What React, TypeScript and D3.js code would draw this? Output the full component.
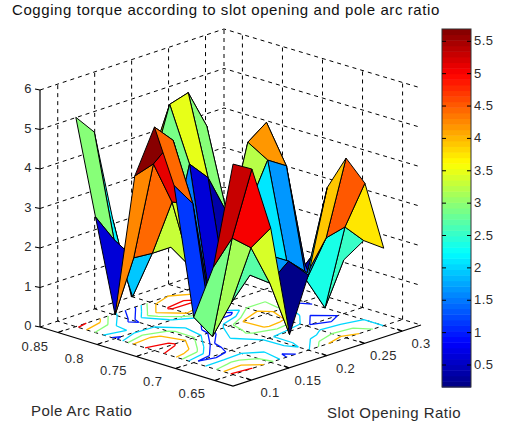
import { useMemo } from "react";
import * as d3 from "d3";

// axis ticks
const slotOpeningTicks = [0.1, 0.15, 0.2, 0.25, 0.3];
const poleArcTicks = [0.65, 0.7, 0.75, 0.8, 0.85];
const cogTicks = [0, 1, 2, 3, 4, 5, 6];
const colorbarTicks = [0.5, 1, 1.5, 2, 2.5, 3, 3.5, 4, 4.5, 5, 5.5];
const contourLevels = [1, 2, 3, 4, 5];

// mesh coordinates
const slotOpening = [0.1, 0.125, 0.15, 0.175, 0.2, 0.225, 0.25, 0.275, 0.3];
const poleArc = [0.65, 0.675, 0.7, 0.725, 0.75, 0.775, 0.8, 0.825, 0.85];

// cogging torque, one list per slot opening, pole arc ascending
const torque010 = [5.33, 2.57, 1.15, 4.33, 5.66, 4.27, 0.6, 2.93, 5.3];
const torque0125 = [5.05, 3.15, 0.5, 3.72, 5.17, 4.42, 1.89, 2.2, 4.77];
const torque015 = [3.4, 2.75, 1.2, 0.8, 3.4, 3.3, 1.85, 0.6, 2.4];
const torque0175 = [0.55, 1.7, 1.75, 2.0, 0.6, 1.5, 1.85, 3.6, 0.3];
const torque020 = [1.9, 2.1, 2.1, 3.2, 2.6, 0.6, 3.8, 5.16, 3.5];
const torque0225 = [3.96, 1.65, 1.7, 4.2, 4.5, 0.35, 3.3, 5.3, 4.0];
const torque025 = [4.55, 2.38, 1.16, 3.9, 4.85, 3.0, 2.27, 4.3, 3.5];
const torque0275 = [3.76, 2.5, 0.3, 1.24, 2.5, 3.0, 2.5, 1.5, 2.5];
const torque030 = [1.96, 2.0, 1.36, 1.7, 0.5, 2.5, 3.0, 2.0, 1.5];
const torque = [
  torque010, torque0125, torque015, torque0175, torque020,
  torque0225, torque025, torque0275, torque030,
];
// cells whose colour does not follow the corner height
const cellColors: Record<string, number> = {
  "3,6": 2.9,
  "3,0": 0.2,
  "0,1": 2.85,
  "4,6": 3.5,
  "5,6": 3.0,
  "0,3": 4.45,
};

const xDomain = [0.076, 0.325];
const yDomain = [0.627, 0.873];
const cMin = 0.16;
const cMax = 5.69;

const u = d3.scaleLinear().domain(xDomain).range([0, 1]);
const v = d3.scaleLinear().domain(yDomain).range([0, 1]);
const h = d3.scaleLinear().domain([0, 6]).range([0, 237]);

// floor corners on screen
const F = [233, 386];
const R = [421, 325];
const L = [40, 327];
const B = [224, 266];

const project = (x: number, y: number, z: number): [number, number] => {
  const a = u(x);
  const b = v(y);
  const px = (1 - a) * (1 - b) * F[0] + a * (1 - b) * R[0] + (1 - a) * b * L[0] + a * b * B[0];
  const py = (1 - a) * (1 - b) * F[1] + a * (1 - b) * R[1] + (1 - a) * b * L[1] + a * b * B[1];
  return [px, py - h(z)];
};

const jetStops = d3
  .scaleLinear<string>()
  .domain([0, 0.125, 0.375, 0.625, 0.875, 1])
  .range(["#000080", "#0000ff", "#00ffff", "#ffff00", "#ff0000", "#800000"])
  .interpolate(d3.interpolateRgb);
const jetLevels = d3.range(64).map((k) => jetStops((k + 0.5) / 64));
const jet = d3.scaleQuantize<string>().domain([cMin, cMax]).range(jetLevels);

const line3d = (pts: [number, number][]) => d3.line()(pts) as string;

const App = () => {
  const cells = useMemo(() => {
    const out: { key: string; d: string; fill: string; depth: number }[] = [];
    slotOpening.slice(0, -1).forEach((x, i) => {
      poleArc.slice(0, -1).forEach((y, j) => {
        const corners = [
          project(x, y, torque[i][j]),
          project(slotOpening[i + 1], y, torque[i + 1][j]),
          project(slotOpening[i + 1], poleArc[j + 1], torque[i + 1][j + 1]),
          project(x, poleArc[j + 1], torque[i][j + 1]),
        ];
        const c = cellColors[`${i},${j}`] ?? torque[i][j];
        out.push({
          key: `${i}-${j}`,
          d: line3d(corners) + "Z",
          fill: jet(c),
          depth: i + j,
        });
      });
    });
    return out.sort((a, b) => b.depth - a.depth);
  }, []);

  const contourPaths = useMemo(() => {
    const n = slotOpening.length;
    const values: number[] = [];
    for (let j = 0; j < n; j++) for (let i = 0; i < n; i++) values.push(torque[i][j]);
    const toX = d3.scaleLinear().domain([0.5, n - 0.5]).range([slotOpening[0], slotOpening[n - 1]]);
    const toY = d3.scaleLinear().domain([0.5, n - 0.5]).range([poleArc[0], poleArc[n - 1]]);
    const inside = (p: number[]) => p[0] >= 0.5 && p[0] <= n - 0.5 && p[1] >= 0.5 && p[1] <= n - 0.5;
    return d3
      .contours()
      .size([n, n])
      .thresholds(contourLevels)(values)
      .map((c) => {
        const path = d3.path();
        c.coordinates.forEach((poly) =>
          poly.forEach((ring) => {
            ring.slice(1).forEach((p, k) => {
              const prev = ring[k];
              if (!inside(prev) || !inside(p)) return;
              const a = project(toX(prev[0]), toY(prev[1]), 0);
              const b = project(toX(p[0]), toY(p[1]), 0);
              path.moveTo(a[0], a[1]);
              path.lineTo(b[0], b[1]);
            });
          })
        );
        return { level: c.value, d: path.toString() };
      });
  }, []);

  const [x0, x1] = xDomain;
  const [y0, y1] = yDomain;
  const grid = "#000";
  const dash = "4 4";
  const tickFont = {
    fontFamily: "'Liberation Sans', Arial, sans-serif",
    fontSize: 13,
    letterSpacing: 0.4,
    fill: "#2b2b2b",
  };
  const labelFont = { ...tickFont, fontSize: 15, letterSpacing: 0.45 };

  const barY = d3.scaleLinear().domain([cMin, cMax]).range([387, 29]);
  const barX = 442;
  const barW = 29;

  return (
    <svg width={505} height={421} style={{ position: "absolute", left: 0, top: 0, background: "#fff" }}>
      <text x={12} y={15} style={{ ...labelFont, letterSpacing: 0.58, fill: "#111" }}>
        Cogging torque according to slot opening and pole arc ratio
      </text>

      {/* wall and floor grid */}
      <g fill="none" stroke={grid} strokeWidth={1} strokeDasharray={dash}>
        {cogTicks.map((t) => (
          <path key={t} d={line3d([project(x0, y1, t), project(x1, y1, t), project(x1, y0, t)])} />
        ))}
        {slotOpeningTicks.map((t) => (
          <g key={t}>
            <path d={line3d([project(t, y1, 0), project(t, y1, 6)])} />
            <path d={line3d([project(t, y0, 0), project(t, y1, 0)])} />
          </g>
        ))}
        {poleArcTicks.map((t) => (
          <g key={t}>
            <path d={line3d([project(x1, t, 0), project(x1, t, 6)])} />
            <path d={line3d([project(x0, t, 0), project(x1, t, 0)])} />
          </g>
        ))}
        <path d={line3d([project(x1, y1, 0), project(x1, y1, 6)])} />
      </g>

      {/* contours on the floor */}
      <g fill="none" strokeWidth={1.3}>
        {contourPaths.map((c) => (
          <path key={c.level} d={c.d} stroke={jet(c.level)} />
        ))}
      </g>

      {/* surface */}
      <g stroke="#000" strokeWidth={1} strokeLinejoin="round">
        {cells.map((c) => (
          <path key={c.key} d={c.d} fill={c.fill} />
        ))}
      </g>

      {/* axes */}
      <g fill="none" stroke="#000" strokeWidth={1.2}>
        <path d={line3d([project(x0, y1, 0), project(x0, y1, 6)])} />
        <path d={line3d([project(x0, y1, 0), project(x0, y0, 0), project(x1, y0, 0)])} />
        {cogTicks.map((t) => {
          const [px, py] = project(x0, y1, t);
          return <path key={t} d={`M${px - 5},${py - 1}L${px},${py}`} />;
        })}
        {slotOpeningTicks.map((t) => {
          const [px, py] = project(t, y0, 0);
          return <path key={t} d={`M${px},${py}L${px - 5},${py - 2}`} />;
        })}
        {poleArcTicks.map((t) => {
          const [px, py] = project(x0, t, 0);
          return <path key={t} d={`M${px},${py}L${px + 5},${py - 2}`} />;
        })}
      </g>
      {cogTicks.map((t) => {
        const [px, py] = project(x0, y1, t);
        return (
          <text key={t} x={px - 8} y={py + 3} textAnchor="end" style={tickFont}>
            {t}
          </text>
        );
      })}
      {slotOpeningTicks.map((t) => {
        const [px, py] = project(t, y0, 0);
        return (
          <text key={t} x={px + 19} y={py + 17} textAnchor="middle" style={tickFont}>
            {t}
          </text>
        );
      })}
      {poleArcTicks.map((t) => {
        const [px, py] = project(x0, t, 0);
        return (
          <text key={t} x={px - 23} y={py + 18} textAnchor="middle" style={tickFont}>
            {t}
          </text>
        );
      })}
      <text x={31} y={416} style={labelFont}>
        Pole Arc Ratio
      </text>
      <text x={327} y={418} style={labelFont}>
        Slot Opening Ratio
      </text>

      {/* colorbar */}
      {jetLevels.map((col, k) => {
        const top = barY(cMin + ((k + 1) / 64) * (cMax - cMin));
        const bottom = barY(cMin + (k / 64) * (cMax - cMin));
        return <rect key={k} x={barX} y={top} width={barW} height={bottom - top + 0.5} fill={col} />;
      })}
      <rect x={barX} y={29} width={barW} height={358} fill="none" stroke="#333" strokeWidth={1} />
      {colorbarTicks.map((t) => (
        <g key={t}>
          <path
            d={`M${barX},${barY(t)}h4M${barX + barW},${barY(t)}h-4`}
            stroke="#000"
            strokeWidth={1}
          />
          <text x={barX + barW + 3} y={barY(t) + 4} style={tickFont}>
            {t}
          </text>
        </g>
      ))}
    </svg>
  );
};

export default App;
